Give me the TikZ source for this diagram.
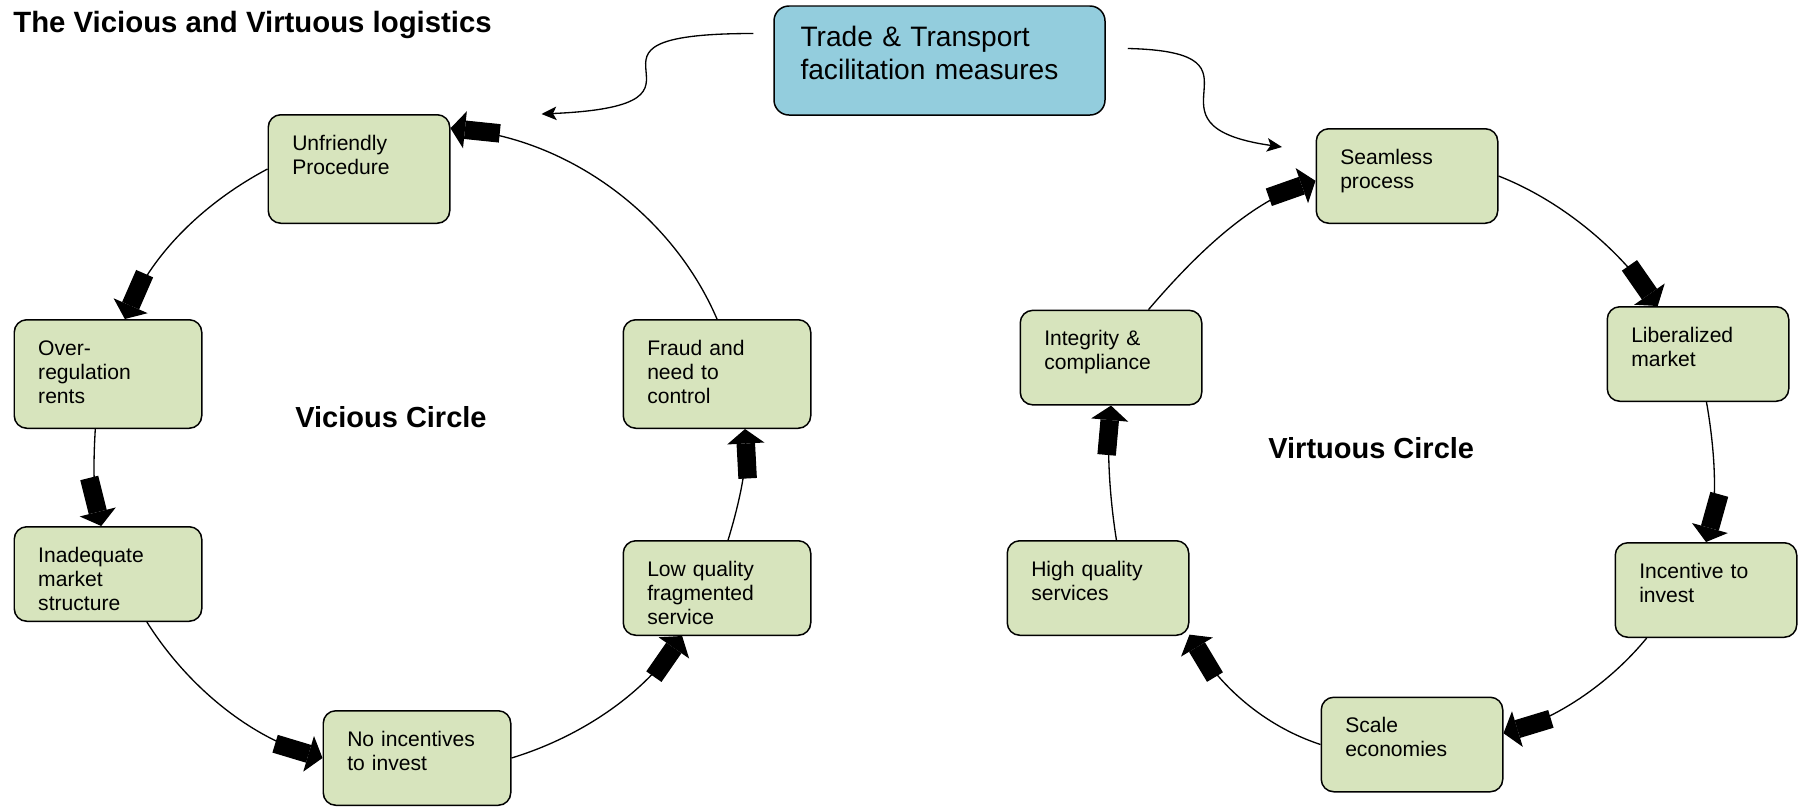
\documentclass[tikz,border=0pt]{standalone}
\usepackage{fontspec}
\setmainfont{Liberation Sans}
\usetikzlibrary{arrows.meta}
\definecolor{boxgreen}{RGB}{215,228,189}
\definecolor{boxblue}{RGB}{147,205,221}
\tikzset{%
  fatarrow/.style={line width=0.75pt,
    -{Rectangle[length=7mm,width=3.7mm,sep=0pt]Triangle[length=2.9mm,width=7.4mm,sep=0pt]}},
  thinarrow/.style={line width=0.75pt,-{Stealth[length=3mm,width=2.7mm,inset=0.7mm]}}%
}

\begin{document}
\begin{tikzpicture}[
    x=0.2mm, y=-0.2mm,
    cbox/.style={
        draw,
        fill=boxgreen,
        line width=0.85pt,
        rounded corners=2.5mm,
        align=left,
        text width=26.7mm,
        inner xsep=4.8mm,
        inner ysep=0pt,
        text height=7.1mm,
        text depth=11.8mm,
        font=\fontsize{12}{13.66}\selectfont
    },
    widebox/.style={text width=27.9mm},
    tallbox/.style={text depth=14.6mm},
    hub/.style={
        cbox,
        fill=boxblue,
        rounded corners=3mm,
        text width=55.6mm,
        inner xsep=5.3mm,
        text height=8.1mm,
        text depth=13.7mm,
        font=\fontsize{16}{18.9}\selectfont
    },
    heading/.style={anchor=base west, inner sep=0pt, font=\fontsize{16.5}{19}\selectfont\bfseries}
]
\useasboundingbox (0,0) rectangle (1800,806);

% Title
\node[heading, font=\fontsize{16.7}{19}\selectfont\bfseries] (title) at (13,32) {The Vicious and Virtuous logistics};

% Measures (top)
\node[hub] (trade) at (939.5,60.5) {Trade \& Transport\\facilitation measures};

% Vicious circle
\node[cbox, tallbox] (unfr) at (359,169) {Unfriendly\\Procedure};
\node[cbox, widebox, tallbox] (overreg) at (108,374) {Over-\\regulation\\rents};
\node[cbox, widebox] (inadeq) at (108,574) {Inadequate\\market\\structure};
\node[cbox, widebox] (noinc) at (417,758) {No incentives\\to invest};
\node[cbox, widebox] (lowq) at (717,588) {Low quality\\fragmented\\service};
\node[cbox, widebox, tallbox] (fraud) at (717,374) {Fraud and\\need to\\control};
\node[heading] (vic) at (295,427) {Vicious Circle};

% Virtuous circle
\node[cbox] (seaml) at (1407,176) {Seamless\\process};
\node[cbox] (liber) at (1698,354) {Liberalized\\market};
\node[cbox] (incent) at (1706,590) {Incentive to\\invest};
\node[cbox] (scaleeco) at (1412,744.5) {Scale\\economies};
\node[cbox] (highq) at (1098,588) {High quality\\services};
\node[cbox] (integ) at (1111,357.6) {Integrity \&\\compliance};
\node[heading] (vir) at (1268,458) {Virtuous Circle};

% Where the measures point to
\coordinate (vicin) at (541.5,114);
\coordinate (virin) at (1282,147);

% Connections
\draw[thinarrow] ([shift={(-20,-27)}]trade.west) .. controls +(-216.5,0) and +(209,-9) .. (vicin);
\draw[thinarrow] ([shift={(22,-12)}]trade.east) .. controls +(155.7,3.5) and +(-154.3,-22) .. (virin);

\draw[fatarrow] (unfr.west) .. controls +(-63.8,33.9) and +(28.9,-66.1) .. (overreg.73);
\draw[fatarrow] (overreg.257) .. controls +(-2,33) and +(-8,-32) .. (inadeq.98);
\draw[fatarrow] (inadeq.309) .. controls +(41,65) and +(-73,-22) .. (noinc.west);
\draw[fatarrow] (noinc.east) .. controls +(69,-21) and +(-41,59) .. (lowq.234);
\draw[fatarrow] (lowq.77) .. controls +(11,-36) and +(2,38) .. (fraud.297);
\draw[fatarrow] (fraud.north) .. controls +(-46,-107) and +(116,12) .. (unfr.24);

\draw[fatarrow] (seaml.east) .. controls +(64,25) and +(-39,-56) .. (liber.130);
\draw[fatarrow] (liber.280) .. controls +(8,45) and +(12,-43) .. (incent.north);
\draw[fatarrow] (incent.219) .. controls +(-37,45) and +(56,-17) .. (scaleeco.7);
\draw[fatarrow] (scaleeco.west) .. controls +(-58,-19) and +(30,50) .. (highq.333);
\draw[fatarrow] (highq.69) .. controls +(-7,-44) and +(-4,45) .. (integ.south);
\draw[fatarrow] (integ.52) .. controls +(47,-55) and +(-68,24) .. (seaml.183);

\end{tikzpicture}
\end{document}
